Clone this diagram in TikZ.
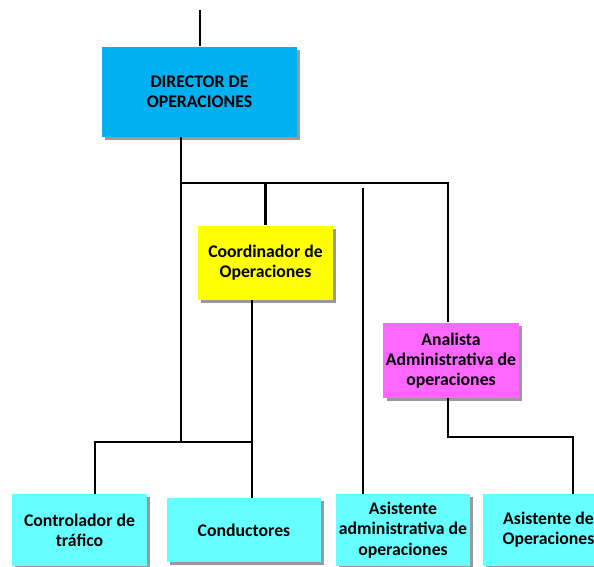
\documentclass[tikz,border=0pt]{standalone}
\usepackage{fontspec}
\setmainfont{Carlito}
\usetikzlibrary{shadows}

\definecolor{dirblue}{RGB}{0,176,240}
\definecolor{coordyellow}{RGB}{255,255,0}
\definecolor{analmagenta}{RGB}{255,102,255}
\definecolor{staffcyan}{RGB}{102,255,255}

\tikzset{every picture/.style={line width=0.75pt}}
\tikzset{
  orgbox/.style={draw=none, align=center, inner sep=2pt,
    font=\fontsize{13.3}{15.2}\selectfont\bfseries,
    drop shadow={shadow xshift=2.5pt, shadow yshift=-2.5pt, fill=black!50, opacity=0.8}},
  link/.style={draw=black, line width=1.6pt}
}

\begin{document}
\begin{tikzpicture}[x=0.75pt,y=0.75pt,yscale=-1,xscale=1]
	\useasboundingbox (0,0) rectangle (594,567);
	\clip (0,0) rectangle (594,567);

	% Boxes
	\node [orgbox, fill=dirblue, minimum width=195*0.75pt, minimum height=90*0.75pt] (dir) at (199.5,92) {DIRECTOR DE\\OPERACIONES};
	\node [orgbox, fill=coordyellow, minimum width=135*0.75pt, minimum height=74*0.75pt] (coord) at (265.5,263) {Coordinador de\\Operaciones};
	\node [orgbox, fill=analmagenta, minimum width=131*0.75pt, minimum height=75*0.75pt] (anal) at (451,360.5) {Analista\\Administrativa de\\operaciones};
	\node [orgbox, fill=staffcyan, minimum width=135*0.75pt, minimum height=72*0.75pt] (ctrl) at (79.5,530) {Controlador de\\tráfico};
	\node [orgbox, fill=staffcyan, minimum width=154*0.75pt, minimum height=64*0.75pt] (cond) at (244,530) {Conductores};
	\node [orgbox, fill=staffcyan, minimum width=134*0.75pt, minimum height=72*0.75pt] (asad) at (403,530) {Asistente\\administrativa de\\operaciones};
	\node [orgbox, fill=staffcyan, minimum width=131*0.75pt, minimum height=72*0.75pt] (asop) at (548.5,530) {Asistente de\\Operaciones};

	% Junction points
	\coordinate (top) at (200,10);
	\coordinate (j1) at (181,183);
	\coordinate (j2) at (181,442);
	\coordinate (j3) at (573,437);
	\coordinate (j4) at (252,442);
	\coordinate (j5) at (95,442);
	\coordinate (a3) at (363,188);
	\coordinate (a4) at (448,183);

	% Connectors
	\draw [link] (top) -- (top |- dir.north);
	\draw [link] (dir.south -| j1) -- (j2);
	\draw [link] (j1) -- (a4) -- (a4 |- anal.north);
	\draw [link] (j1 -| coord.north) -- (coord.north);
	\draw [link] (a3) -- (a3 |- asad.north);
	\draw [link] (anal.south -| a4) |- (j3) -- (j3 |- asop.north);
	\draw [link] (coord.south -| j4) -- (j4 |- cond.north);
	\draw [link] (j4) -- (j5) -- (j5 |- ctrl.north);

\end{tikzpicture}
\end{document}
